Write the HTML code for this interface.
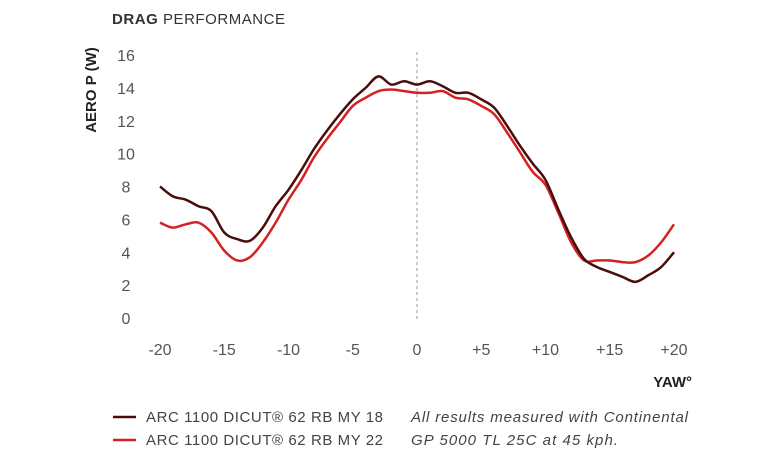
<!DOCTYPE html>
<html><head><meta charset="utf-8"><style>
body{margin:0;background:#fff;width:768px;height:461px;overflow:hidden;font-family:"Liberation Sans",sans-serif;}
svg text{font-family:"Liberation Sans",sans-serif;}
</style></head><body>
<svg id="chart" width="768" height="461">
<text x="112" y="24" font-size="15" fill="#333" textLength="173"><tspan font-weight="bold">DRAG</tspan> PERFORMANCE</text>
<text transform="translate(96,90) rotate(-90)" text-anchor="middle" font-size="15" font-weight="bold" fill="#222">AERO P (W)</text>
<text x="692" y="387" text-anchor="end" font-size="15" font-weight="bold" fill="#222">YAW°</text>
<line x1="417" y1="52" x2="417" y2="322" stroke="#999" stroke-dasharray="3,3"/>
<g id="yt"></g><g id="xt"></g><g id="series"></g>
<line x1="113" y1="417" x2="136" y2="417" stroke="#4a0d0d" stroke-width="2.5"/>
<text x="146" y="422" font-size="15" fill="#444" textLength="237">ARC 1100 DICUT® 62 RB MY 18</text>
<line x1="113" y1="440" x2="136" y2="440" stroke="#d42222" stroke-width="2.5"/>
<text x="146" y="445" font-size="15" fill="#444" textLength="237">ARC 1100 DICUT® 62 RB MY 22</text>
<text x="411" y="422" font-size="15" font-style="italic" fill="#444" textLength="277">All results measured with Continental</text>
<text x="411" y="445" font-size="15" font-style="italic" fill="#444" textLength="207">GP 5000 TL 25C at 45 kph.</text>
</svg>
<script>
const yaw=[-20,-19,-18,-17,-16,-15,-14,-13,-12,-11,-10,-9,-8,-7,-6,-5,-4,-3,-2,-1,0,1,2,3,4,5,6,7,8,9,10,11,12,13,14,15,16,17,18,19,20];
const my18=[8.0,7.4,7.2,6.8,6.5,5.2,4.8,4.7,5.5,6.8,7.8,9.0,10.3,11.4,12.4,13.3,14.0,14.7,14.2,14.4,14.2,14.4,14.1,13.7,13.7,13.3,12.8,11.7,10.5,9.4,8.4,6.6,4.9,3.6,3.1,2.8,2.5,2.2,2.6,3.1,4.0];
const my22=[5.8,5.5,5.7,5.8,5.2,4.1,3.5,3.7,4.6,5.8,7.2,8.4,9.8,10.9,11.9,12.9,13.4,13.8,13.9,13.8,13.7,13.7,13.8,13.4,13.3,12.9,12.4,11.3,10.1,8.9,8.1,6.4,4.6,3.5,3.5,3.5,3.4,3.4,3.8,4.6,5.7];
const yTicks=[0,2,4,6,8,10,12,14,16];
const xTicks=[-20,-15,-10,-5,0,5,10,15,20];
const xs=v=>160+(v+20)*(674-160)/40;
const ys=v=>318-v*(318-55)/16;
const NS="http://www.w3.org/2000/svg";
const yt=document.getElementById('yt'),xt=document.getElementById('xt'),sg=document.getElementById('series');
yTicks.forEach(t=>{const e=document.createElementNS(NS,'text');e.setAttribute('x',126);e.setAttribute('y',ys(t)+6);e.setAttribute('text-anchor','middle');e.setAttribute('font-size','16');e.setAttribute('fill','#555');e.textContent=t;


yt.appendChild(e);});
xTicks.forEach(t=>{const e=document.createElementNS(NS,'text');e.setAttribute('x',xs(t));e.setAttribute('y',355);e.setAttribute('text-anchor','middle');e.setAttribute('font-size','16');e.setAttribute('fill','#555');e.textContent=t>0?'+'+t:t;


xt.appendChild(e);});
function path(vals){const p=yaw.map((x,i)=>[xs(x),ys(vals[i])]);let d='M'+p[0][0]+','+p[0][1];
for(let i=0;i<p.length-1;i++){const p0=p[Math.max(0,i-1)],p1=p[i],p2=p[i+1],p3=p[Math.min(p.length-1,i+2)];
d+=' C'+(p1[0]+(p2[0]-p0[0])/6)+','+(p1[1]+(p2[1]-p0[1])/6)+' '+(p2[0]-(p3[0]-p1[0])/6)+','+(p2[1]-(p3[1]-p1[1])/6)+' '+p2[0]+','+p2[1];}return d;}
[[my22,'#d42222','series-my22'],[my18,'#4a0d0d','series-my18']].forEach(([v,c,n])=>{const e=document.createElementNS(NS,'path');e.setAttribute('d',path(v));e.setAttribute('fill','none');e.setAttribute('stroke',c);e.setAttribute('stroke-width','2.5');


sg.appendChild(e);});
</script>
</body></html>
